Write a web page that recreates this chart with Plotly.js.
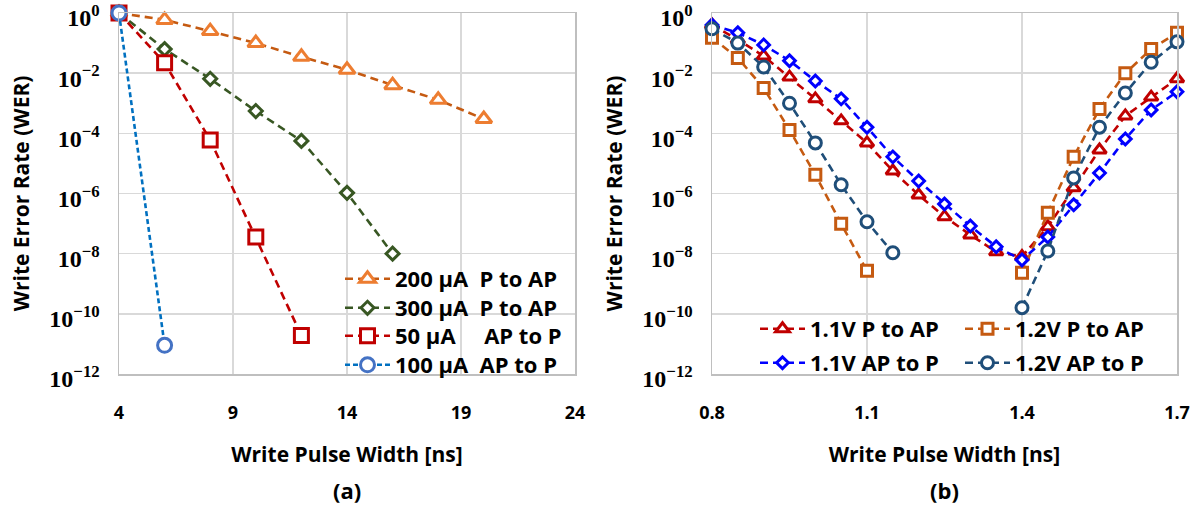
<!DOCTYPE html>
<html>
<head>
<meta charset="utf-8">
<script src="https://cdn.plot.ly/plotly-3.0.1.min.js"></script>
<style>html,body{margin:0;padding:0;background:#fff;}#chart{width:1190px;height:508px;}</style>
</head>
<body>
<div id="chart"></div>
<script>
// ---------- Panel (a) data ----------
const xA_200 = [4, 6, 8, 10, 12, 14, 16, 18, 20];
const yA_200 = [1, 0.59, 0.25, 0.1, 0.035, 0.013, 0.004, 0.0013, 0.0003];
const xA_300 = [4, 6, 8, 10, 12, 14, 16];
const yA_300 = [1, 0.063, 0.0065, 0.00055, 5.6e-5, 1.05e-6, 1e-8];
const xA_50 = [4, 6, 8, 10, 12];
const yA_50 = [1, 0.022, 6e-5, 3.6e-8, 1.9e-11];
const xA_100 = [4, 6];
const yA_100 = [1, 9e-12];
const namesA = ['200 µA\u00a0\u00a0P to AP', '300 µA\u00a0\u00a0P to AP', '50 µA\u00a0\u00a0\u00a0\u00a0\u00a0AP to P', '100 µA\u00a0\u00a0AP to P'];

// ---------- Panel (b) data ----------
const xB_11 = [0.8, 0.85, 0.9, 0.95, 1.0, 1.05, 1.1, 1.15, 1.2, 1.25, 1.3, 1.35, 1.4, 1.45, 1.5, 1.55, 1.6, 1.65, 1.7];
const yB_11_PAP = [0.4, 0.13, 0.037, 7.4e-3, 1.4e-3, 2.6e-4, 4.8e-5, 5.6e-6, 8.9e-7, 1.7e-7, 4.2e-8, 1.15e-8, 8e-9, 7.8e-8, 1.55e-6, 2.8e-5, 3.8e-4, 1.6e-3, 6.5e-3];
const yB_11_APP = [0.4, 0.22, 0.087, 0.026, 5.5e-3, 1.4e-3, 1.6e-4, 1.65e-5, 2.6e-6, 4.5e-7, 8.3e-8, 1.7e-8, 6.2e-9, 3.6e-8, 4.2e-7, 4.8e-6, 6.5e-5, 6e-4, 2.4e-3];
const xB_12_PAP = [0.8, 0.85, 0.9, 0.95, 1.0, 1.05, 1.1, null, 1.4, 1.45, 1.5, 1.55, 1.6, 1.65, 1.7];
const yB_12_PAP = [0.15, 0.032, 3.2e-3, 1.3e-4, 4.2e-6, 9.8e-8, 2.7e-9, null, 2.3e-9, 2.3e-7, 1.65e-5, 6.5e-4, 0.01, 0.063, 0.22];
const xB_12_APP = [0.8, 0.85, 0.9, 0.95, 1.0, 1.05, 1.1, 1.15, null, 1.4, 1.45, 1.5, 1.55, 1.6, 1.65, 1.7];
const yB_12_APP = [0.3, 0.1, 0.016, 1.0e-3, 4.8e-5, 1.95e-6, 1.15e-7, 1.07e-8, null, 1.6e-10, 1.23e-8, 3.3e-6, 1.6e-4, 2.2e-3, 0.023, 0.11];
const namesB = ['1.1V P to AP', '1.2V P to AP', '1.1V AP to P', '1.2V AP to P'];

// ---------- Axis tick labels ----------
const yTickVals = [1, 1e-2, 1e-4, 1e-6, 1e-8, 1e-10, 1e-12];
const yTickText = ['10<sup>0</sup>', '10<sup>\u22122</sup>', '10<sup>\u22124</sup>', '10<sup>\u22126</sup>', '10<sup>\u22128</sup>', '10<sup>\u221210</sup>', '10<sup>\u221212</sup>'];
const xTickValsA = [4, 9, 14, 19, 24];
const xTickValsB = [0.8, 1.1, 1.4, 1.7];
const xTickTextB = ['0.8', '1.1', '1.4', '1.7'];
const axisTitleX = 'Write Pulse Width [ns]';
const axisTitleY = 'Write Error Rate (WER)';
const panelLabels = ['(a)', '(b)'];

const W = 1190, H = 508;
const SANS = 'Open Sans, Lato, sans-serif';
const SERIF = 'Liberation Serif, DejaVu Serif, serif';

function tr(x, y, name, color, lineColor, symbol, size, dash, xa, ya, legend, lw) {
  return {
    x: x, y: y, name: name, type: 'scatter', mode: 'lines+markers',
    xaxis: xa, yaxis: ya, legend: legend, cliponaxis: false, connectgaps: false,
    line: {color: lineColor, width: lw || 2.6, dash: dash},
    marker: {symbol: symbol, size: size, color: '#ffffff', line: {color: color, width: 3}}
  };
}

const data = [
  tr(xA_200, yA_200, namesA[0], '#ED7D31', '#C55A11', 'triangle-up', 14, '8px,5px', 'x', 'y', 'legend'),
  tr(xA_300, yA_300, namesA[1], '#385723', '#385723', 'diamond', 10, '8px,5px', 'x', 'y', 'legend2'),
  tr(xA_50, yA_50, namesA[2], '#C00000', '#C00000', 'square', 14, '8px,5px', 'x', 'y', 'legend3'),
  tr(xA_100, yA_100, namesA[3], '#4472C4', '#0070C0', 'circle', 14, '5px,3px', 'x', 'y', 'legend4'),
  tr(xB_11, yB_11_PAP, namesB[0], '#C00000', '#C00000', 'triangle-up', 12, '8px,5px', 'x2', 'y2', 'legend5'),
  tr(xB_12_PAP, yB_12_PAP, namesB[1], '#C55A11', '#C55A11', 'square', 11, '8px,5px', 'x2', 'y2', 'legend5'),
  tr(xB_11, yB_11_APP, namesB[2], '#0000FF', '#0000FF', 'diamond', 9, '8px,5px', 'x2', 'y2', 'legend6'),
  tr(xB_12_APP, yB_12_APP, namesB[3], '#1F4E79', '#1F4E79', 'circle', 12, '8px,5px', 'x2', 'y2', 'legend6')
];

const yDom = [1 - 374 / H, 1 - 13 / H];
function yAxis(xanchor) {
  return {
    type: 'log', range: [-12, 0], domain: yDom, anchor: xanchor,
    tickvals: yTickVals, ticktext: yTickText,
    tickfont: {family: SERIF, size: 24, color: '#000', weight: 700},
    ticklabelstandoff: 13, ticklabelshift: 5, ticklabeloverflow: 'allow', ticks: '',
    showgrid: true, gridcolor: '#d9d9d9', gridwidth: 1.5,
    showline: true, linecolor: '#bfbfbf', linewidth: 1.5, mirror: true,
    zeroline: false, automargin: false,
    title: {text: axisTitleY, font: {family: SANS, size: 21, color: '#000', weight: 700}, standoff: 14}
  };
}
function xAxis(dom, range, tv, tt, yanchor) {
  const a = {
    range: range, domain: dom, anchor: yanchor,
    tickvals: tv, tickfont: {family: SANS, size: 18, color: '#000', weight: 700},
    ticklabelstandoff: 22, ticklabeloverflow: 'allow', ticks: '',
    showgrid: true, gridcolor: '#d9d9d9', gridwidth: 1.5,
    showline: true, linecolor: '#bfbfbf', linewidth: 1.5, mirror: true,
    zeroline: false, automargin: false,
    title: {text: axisTitleX, font: {family: SANS, size: 21, color: '#000', weight: 700}, standoff: 24}
  };
  if (tt) a.ticktext = tt;
  return a;
}

function leg(xpx, ypx, horiz) {
  const l = {
    x: xpx / W, y: 1 - ypx / H, xanchor: 'left', yanchor: 'middle',
    bgcolor: 'rgba(0,0,0,0)', borderwidth: 0,
    font: {family: SANS, size: 22, color: '#000', weight: 700},
    itemwidth: 45, tracegroupgap: 0
  };
  if (horiz) { l.orientation = 'h'; l.entrywidth = 145; l.entrywidthmode = 'pixels'; }
  return l;
}

const layout = {
  width: W, height: H,
  margin: {l: 0, r: 0, t: 0, b: 0},
  paper_bgcolor: '#fff', plot_bgcolor: '#fff',
  showlegend: true,
  xaxis: xAxis([119 / W, 575 / W], [4, 24], xTickValsA, null, 'y'),
  yaxis: yAxis('x'),
  xaxis2: xAxis([712 / W, 1177 / W], [0.8, 1.7], xTickValsB, xTickTextB, 'y2'),
  yaxis2: yAxis('x2'),
  legend: leg(340, 279),
  legend2: leg(340, 308),
  legend3: leg(340, 336),
  legend4: leg(340, 365),
  legend5: leg(755, 329, true),
  legend6: leg(755, 363, true),
  annotations: [
    {text: panelLabels[0], x: 347 / W, y: 1 - 490 / H, xref: 'paper', yref: 'paper', showarrow: false,
     font: {family: SANS, size: 22, color: '#000', weight: 700}, xanchor: 'center', yanchor: 'middle'},
    {text: panelLabels[1], x: 944 / W, y: 1 - 490 / H, xref: 'paper', yref: 'paper', showarrow: false,
     font: {family: SANS, size: 22, color: '#000', weight: 700}, xanchor: 'center', yanchor: 'middle'}
  ]
};

Plotly.newPlot('chart', data, layout, {displayModeBar: false, staticPlot: true});
</script>
</body>
</html>
